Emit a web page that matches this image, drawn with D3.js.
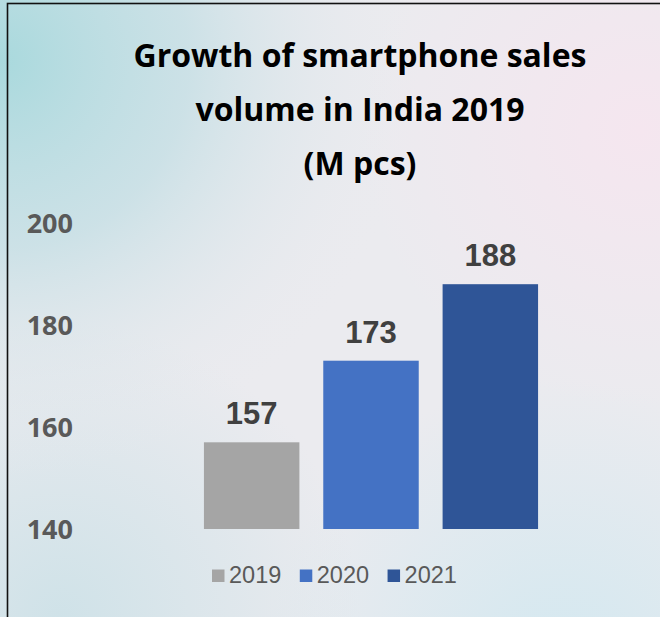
<!DOCTYPE html>
<html>
<head>
<meta charset="utf-8">
<script src="https://cdn.jsdelivr.net/npm/d3@7/dist/d3.min.js"></script>
<style>
  html, body { margin: 0; padding: 0; background: #ebebef; }
  svg { display: block; }
</style>
</head>
<body>
<svg id="chart" width="660" height="617"></svg>
<script>
const categories = ["2019", "2020", "2021"];
const values = [157, 173, 188];
const colors = ["#a5a5a5", "#4472c4", "#2f5597"];
const yTicks = [140, 160, 180, 200];
const titleLines = ["Growth of smartphone sales", "volume in India 2019", "(M pcs)"];

const W = 660, H = 617;
const svg = d3.select("#chart");
const defs = svg.append("defs");

// background gradients
const g1 = defs.append("radialGradient").attr("id", "teal")
  .attr("gradientUnits", "userSpaceOnUse").attr("cx", 0).attr("cy", 60).attr("r", 420);
g1.append("stop").attr("offset", 0).attr("stop-color", "#a9d9dd").attr("stop-opacity", 1);
g1.append("stop").attr("offset", 0.45).attr("stop-color", "#bfdde3").attr("stop-opacity", 0.7);
g1.append("stop").attr("offset", 1).attr("stop-color", "#ebebef").attr("stop-opacity", 0);

const g2 = defs.append("radialGradient").attr("id", "pink")
  .attr("gradientUnits", "userSpaceOnUse").attr("cx", 640).attr("cy", 130).attr("r", 280);
g2.append("stop").attr("offset", 0).attr("stop-color", "#f5e6ef").attr("stop-opacity", 1);
g2.append("stop").attr("offset", 1).attr("stop-color", "#f5e6ef").attr("stop-opacity", 0);

const g3 = defs.append("radialGradient").attr("id", "blue")
  .attr("gradientUnits", "userSpaceOnUse").attr("cx", 560).attr("cy", 680).attr("r", 300);
g3.append("stop").attr("offset", 0).attr("stop-color", "#d2e8f0").attr("stop-opacity", 1);
g3.append("stop").attr("offset", 1).attr("stop-color", "#d2e8f0").attr("stop-opacity", 0);

const g4 = defs.append("radialGradient").attr("id", "blue2")
  .attr("gradientUnits", "userSpaceOnUse").attr("cx", 60).attr("cy", 620).attr("r", 300);
g4.append("stop").attr("offset", 0).attr("stop-color", "#cfe2e8").attr("stop-opacity", 1);
g4.append("stop").attr("offset", 1).attr("stop-color", "#cfe2e8").attr("stop-opacity", 0);

svg.append("rect").attr("width", W).attr("height", H).attr("fill", "#ebebef");
svg.append("rect").attr("width", W).attr("height", H).attr("fill", "url(#blue2)");
svg.append("rect").attr("width", W).attr("height", H).attr("fill", "url(#blue)");
svg.append("rect").attr("width", W).attr("height", H).attr("fill", "url(#pink)");
svg.append("rect").attr("width", W).attr("height", H).attr("fill", "url(#teal)");

// border (extends beyond right/bottom)
svg.append("rect").attr("x", 7.5).attr("y", 3.5).attr("width", W + 20).attr("height", H + 20)
  .attr("fill", "none").attr("stroke", "#111").attr("stroke-width", 1.6);

// title
svg.append("g").selectAll("text").data(titleLines).join("text")
  .attr("x", 360).attr("y", (d, i) => 67 + i * 54)
  .attr("text-anchor", "middle")
  .attr("font-family", "'Open Sans', sans-serif").attr("font-weight", 700)
  .attr("font-size", 32).attr("fill", "#000")
  .text(d => d);

// scales
const x = d3.scaleBand().domain(categories).range([192, 550]).paddingInner(0.2).paddingOuter(0.1);
const y = d3.scaleLinear().domain([140, 200]).range([529, 223]);

// y axis
const yAxis = d3.axisLeft(y).tickValues(yTicks).tickSize(0).tickPadding(0);
const ya = svg.append("g").attr("transform", "translate(73,0)").call(yAxis)
  .attr("font-family", "'Open Sans', sans-serif");
ya.select(".domain").remove();
ya.selectAll("text")
  .attr("font-family", "'Open Sans', sans-serif").attr("font-weight", 700)
  .attr("font-size", 27).attr("fill", "#595959").attr("dy", "0.36em");

// bars
const data = categories.map((c, i) => ({ c, v: values[i], col: colors[i] }));
svg.append("g").selectAll("rect").data(data).join("rect")
  .attr("x", d => x(d.c)).attr("width", x.bandwidth())
  .attr("y", d => y(d.v)).attr("height", d => y(140) - y(d.v))
  .attr("fill", d => d.col);

// data labels
svg.append("g").selectAll("text").data(data).join("text")
  .attr("x", d => x(d.c) + x.bandwidth() / 2)
  .attr("y", d => y(d.v) - 18)
  .attr("text-anchor", "middle")
  .attr("font-family", "'Liberation Sans', Arial, sans-serif").attr("font-weight", 700)
  .attr("font-size", 31).attr("fill", "#404040")
  .text(d => d.v);

// legend
const leg = svg.append("g");
let lx = 212;
data.forEach(d => {
  leg.append("rect").attr("x", lx).attr("y", 569.5).attr("width", 12.5).attr("height", 12.5).attr("fill", d.col);
  const t = leg.append("text").attr("x", lx + 17).attr("y", 582.5)
    .attr("font-family", "'Liberation Sans', Arial, sans-serif")
    .attr("font-size", 23.5).attr("fill", "#595959").text(d.c);
  lx = lx + 17 + t.node().getComputedTextLength() + 18.5;
});
</script>
</body>
</html>
